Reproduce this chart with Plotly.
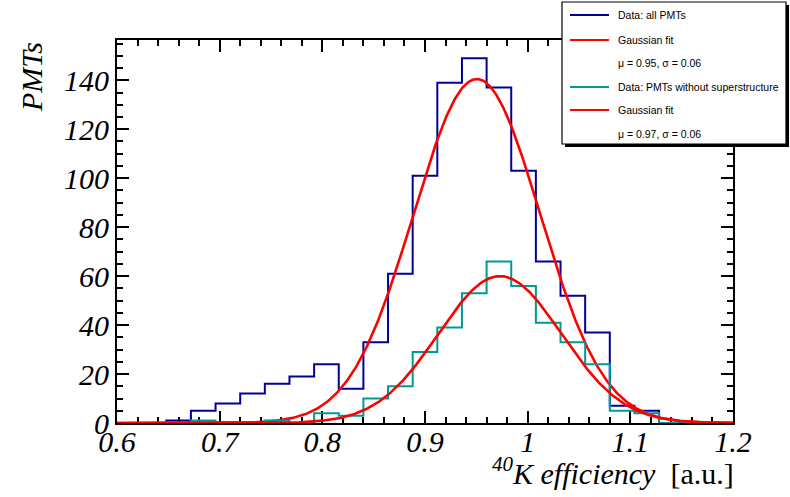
import numpy as np
import plotly.graph_objects as go

# ---------------- data ----------------
bin_low, bin_high, n_bins = 0.6, 1.2, 25
counts_all = [0, 0, 1, 5, 8, 12, 16, 19, 24, 14, 33, 61, 101, 139, 149, 137,
              103, 66, 52, 37, 7, 5, 0, 0, 0]
counts_nosuper = [0, 0, 0, 1, 0, 0, 1, 0, 4, 3, 10, 15, 29, 39, 53, 66,
                  56, 41, 33, 24, 5, 4, 0, 0, 0]
# Gaussian fit parameters (amplitude, mean, sigma)
fit_all = [140.5, 0.9505, 0.0618]
fit_nosuper = [60.0, 0.973, 0.0600]

legend_labels = ["Data: all PMTs", "Gaussian fit", "\u03bc = 0.95, \u03c3 = 0.06",
                 "Data: PMTs without superstructure", "Gaussian fit",
                 "\u03bc = 0.97, \u03c3 = 0.06"]
x_ticks = [0.6, 0.7, 0.8, 0.9, 1.0, 1.1, 1.2]
y_ticks = [0, 20, 40, 60, 80, 100, 120, 140]

BLUE = "#000099"
TEAL = "#009999"
RED = "#ff0000"

edges = np.linspace(bin_low, bin_high, n_bins + 1)
xfit = np.linspace(bin_low, bin_high, 600)


def gaus(p, x):
    return p[0] * np.exp(-0.5 * ((x - p[1]) / p[2]) ** 2)


def step(counts):
    return list(edges), list(counts) + [counts[-1]]


fig = go.Figure()
x1, y1 = step(counts_all)
fig.add_trace(go.Scatter(x=x1, y=y1, mode="lines", line=dict(color=BLUE, width=2, shape="hv"),
                         showlegend=False))
fig.add_trace(go.Scatter(x=xfit, y=gaus(fit_all, xfit), mode="lines",
                         line=dict(color=RED, width=2.6), showlegend=False))
x2, y2 = step(counts_nosuper)
fig.add_trace(go.Scatter(x=x2, y=y2, mode="lines", line=dict(color=TEAL, width=2, shape="hv"),
                         showlegend=False))
fig.add_trace(go.Scatter(x=xfit, y=gaus(fit_nosuper, xfit), mode="lines",
                         line=dict(color=RED, width=2.6), showlegend=False))

# ---------------- layout ----------------
W, H = 790, 497
L, R, T, B = 117, 57, 40, 74
pw, ph = W - L - R, H - T - B


def px(xp):
    return (xp - L) / pw


def py(yp):
    return (H - B - yp) / ph


tickfont = dict(family="Liberation Serif", size=30, color="black", style="italic")
ymax = max(counts_all) * 1.05

axis_common = dict(showgrid=False, zeroline=False, showline=True, linecolor="black",
                   linewidth=2, mirror="ticks", ticks="inside", tickwidth=2,
                   ticklen=12, tickcolor="black", tickfont=tickfont, layer="below traces")

fig.update_layout(
    width=W, height=H, margin=dict(l=L, r=R, t=T, b=B),
    paper_bgcolor="white", plot_bgcolor="white",
    xaxis=dict(range=[bin_low, bin_high], tickvals=x_ticks,
               ticktext=[f"{v:g}" for v in x_ticks], ticklabelstandoff=-9,
               minor=dict(ticks="inside", ticklen=6, tickwidth=2, dtick=0.02, tickcolor="black"),
               **axis_common),
    yaxis=dict(range=[0, ymax], tickvals=y_ticks,
               minor=dict(ticks="inside", ticklen=6, tickwidth=2, dtick=5, tickcolor="black"),
               **axis_common),
)

shapes = []
annotations = []
# axis titles
annotations.append(dict(xref="paper", yref="paper", x=px(736), y=py(492), xanchor="right",
                        yanchor="bottom", showarrow=False,
                        text="<i><sup>40</sup>K efficiency</i>  [a.u.]",
                        font=dict(family="Liberation Serif", size=30, color="black")))
annotations.append(dict(xref="paper", yref="paper", x=px(31), y=py(40), xanchor="center",
                        yanchor="top", showarrow=False, textangle=-90,
                        text="<i>PMTs</i>",
                        font=dict(family="Liberation Serif", size=30, color="black")))

# legend box (with ROOT-style shadow)
lx0, ly0, lx1, ly1 = 562, 2, 786, 144
shapes.append(dict(type="rect", xref="paper", yref="paper", x0=px(lx0 + 3), x1=px(lx1 + 3),
                   y0=py(ly1 + 3), y1=py(ly0 + 3), fillcolor="black", line=dict(width=0),
                   layer="above"))
shapes.append(dict(type="rect", xref="paper", yref="paper", x0=px(lx0), x1=px(lx1),
                   y0=py(ly1), y1=py(ly0), fillcolor="white", line=dict(color="black", width=1.2),
                   layer="above"))
entry_y = [15, 40, 63, 87, 110, 134]
entry_col = [BLUE, RED, None, TEAL, RED, None]
for lab, yy, col in zip(legend_labels, entry_y, entry_col):
    if col:
        shapes.append(dict(type="line", xref="paper", yref="paper", x0=px(570), x1=px(609),
                           y0=py(yy), y1=py(yy), line=dict(color=col, width=2), layer="above"))
    annotations.append(dict(xref="paper", yref="paper", x=px(616), y=py(yy), xanchor="left",
                            yanchor="middle", showarrow=False, text=lab,
                            font=dict(family="Liberation Sans", size=10.5, color="black")))

fig.update_layout(shapes=shapes, annotations=annotations)
fig.write_html("out.html")
